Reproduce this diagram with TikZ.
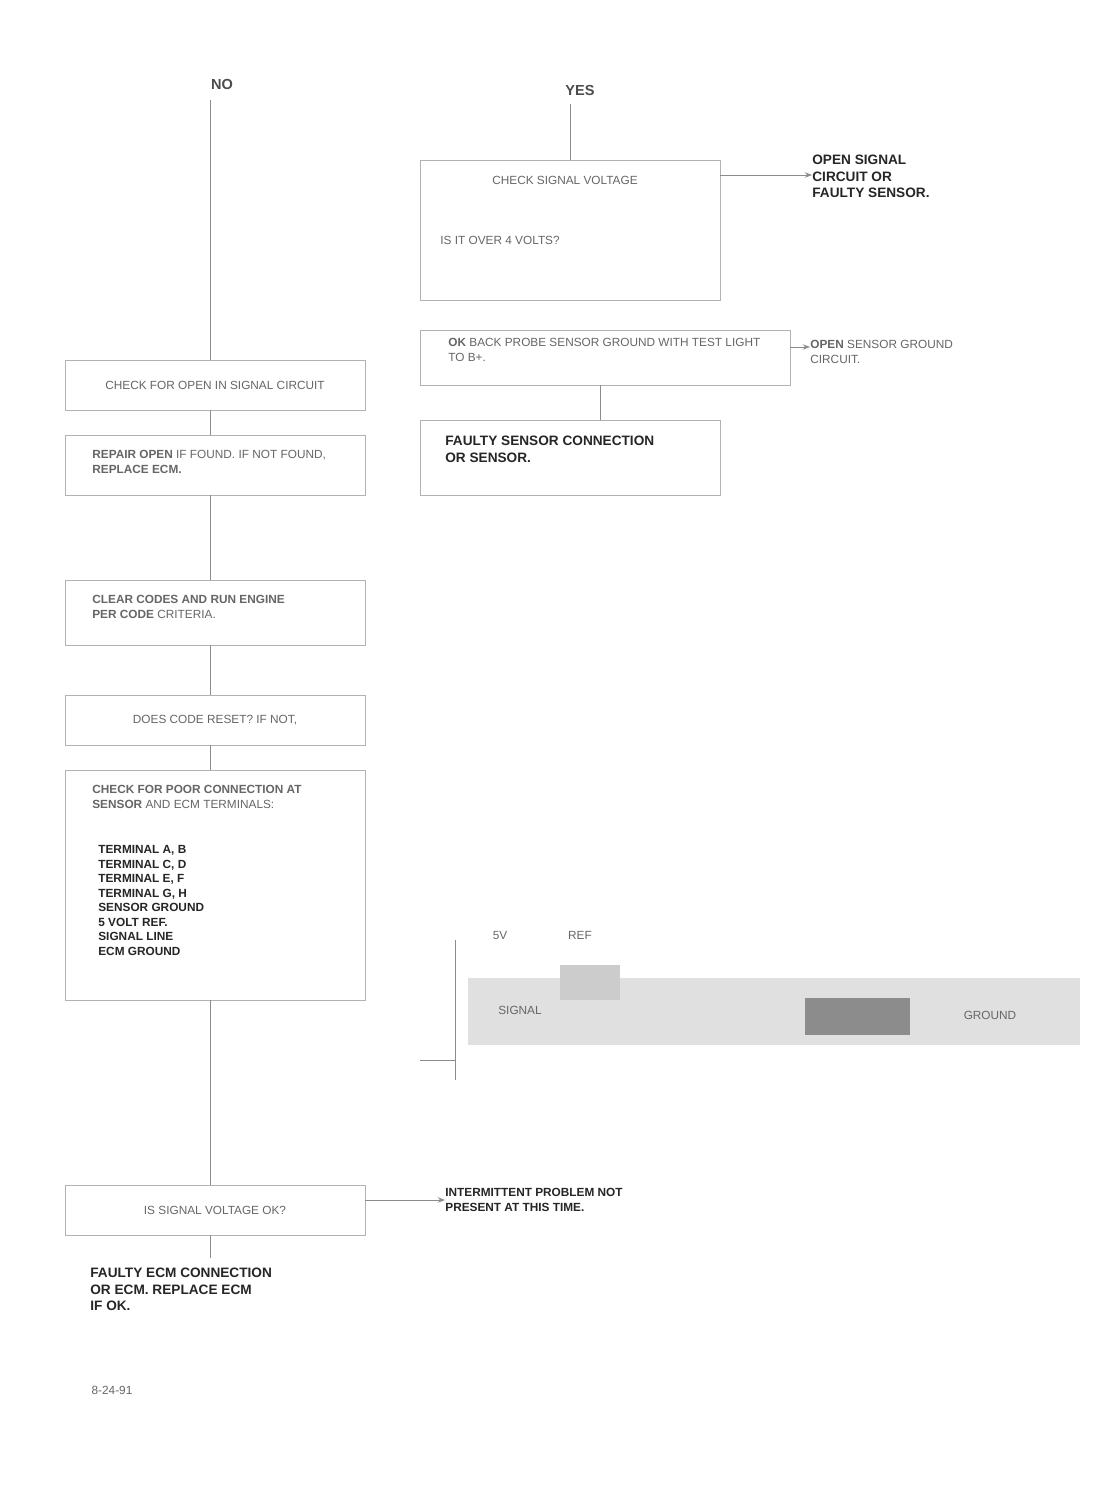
\documentclass[tikz,border=0pt]{standalone}
\usepackage{fontspec}
\setmainfont{Liberation Sans}
\usetikzlibrary{arrows.meta}
\begin{document}
\begin{tikzpicture}[x=0.55pt,y=-0.55pt,
  conn/.style={draw=black!45,line width=0.5pt},
  arr/.style={conn,-{Stealth[length=4pt]}},
  stepbox/.style={draw=black!30,line width=0.4pt},
  txt/.style={font=\fontsize{6.5}{8}\selectfont,text=black!60,inner sep=0pt},
  dtxt/.style={font=\fontsize{6.5}{8}\selectfont\bfseries,text=black!85,inner sep=0pt},
  lbl/.style={font=\fontsize{8}{9}\selectfont\bfseries,text=black!70,inner sep=1pt}]
\useasboundingbox (0,0) rectangle (1117,1490);
\fill[white] (0,0) rectangle (1117,1490);

% ---------- left column ----------
\node[lbl] (noL) at (222,84) {NO};
\draw[stepbox] (65,360) rectangle (365,410);
\node[txt,align=center] (l1) at (215,385) {CHECK FOR OPEN IN SIGNAL CIRCUIT};
\draw[stepbox] (65,435) rectangle (365,495);
\node[txt,align=left,anchor=north west] (l2) at (92,450) {\textbf{REPAIR OPEN} IF FOUND. IF NOT FOUND,\\\textbf{REPLACE ECM.}};
\coordinate (c1) at (210,100);
\draw[conn] (c1) -- (210,360);
\draw[conn] (210,410) -- (210,435);
\draw[conn] (210,495) -- (210,580);

\draw[stepbox] (65,580) rectangle (365,645);
\node[txt,align=left,anchor=north west] (l3) at (92,595) {\textbf{CLEAR CODES AND RUN ENGINE}\\\textbf{PER CODE} CRITERIA.};
\draw[conn] (210,645) -- (210,695);
\draw[stepbox] (65,695) rectangle (365,745);
\node[txt] (l4) at (215,720) {DOES CODE RESET? IF NOT,};
\draw[conn] (210,745) -- (210,770);

\draw[stepbox] (65,770) rectangle (365,1000);
\node[txt,align=left,anchor=north west] (l5) at (92,785) {\textbf{CHECK FOR POOR CONNECTION AT}\\\textbf{SENSOR} AND ECM TERMINALS:};
\node[dtxt,align=left,anchor=north west] (l5b) at (98,845) {TERMINAL A, B\\TERMINAL C, D\\TERMINAL E, F\\TERMINAL G, H\\SENSOR GROUND\\5 VOLT REF.\\SIGNAL LINE\\ECM GROUND};
\draw[conn] (210,1000) -- (210,1185);

\draw[stepbox] (65,1185) rectangle (365,1235);
\node[txt] (l6) at (215,1210) {IS SIGNAL VOLTAGE OK?};
\node[dtxt,align=left,anchor=north west] (r6) at (445,1188) {INTERMITTENT PROBLEM NOT\\PRESENT AT THIS TIME.};
\draw[arr] (365,1200) -- (r6.west|-0,1200);
\draw[conn] (210,1235) -- (210,1258);
\node[dtxt,align=left,anchor=north west,font=\fontsize{7.5}{9}\selectfont\bfseries] (l7) at (90,1268) {FAULTY ECM CONNECTION\\OR ECM. REPLACE ECM\\IF OK.};
\node[txt] (fn) at (112,1390) {8-24-91};

% ---------- right column ----------
\node[lbl] (yesR) at (580,90) {YES};
\draw[conn] (570,104) -- (570,160);
\draw[stepbox] (420,160) rectangle (720,300);
\node[txt] (r1) at (565,180) {CHECK SIGNAL VOLTAGE};
\node[txt,align=left,anchor=north west] (r1b) at (440,236) {IS IT OVER 4 VOLTS?};
\node[dtxt,align=left,anchor=north west,font=\fontsize{7.5}{9}\selectfont\bfseries] (r1c) at (812,155) {OPEN SIGNAL\\CIRCUIT OR\\FAULTY SENSOR.};
\draw[arr] (720,175) -- (r1c.west|-0,175);

\draw[stepbox] (420,330) rectangle (790,385);
\node[txt,align=left,anchor=north west] (r2) at (448,338) {\textbf{OK} BACK PROBE SENSOR GROUND WITH TEST LIGHT\\TO B+.};
\node[txt,align=left,anchor=north west] (r2b) at (810,340) {\textbf{OPEN} SENSOR GROUND\\CIRCUIT.};
\draw[arr] (790,347) -- (r2b.west|-0,347);
\draw[conn] (600,385) -- (600,420);
\draw[stepbox] (420,420) rectangle (720,495);
\node[dtxt,align=left,anchor=north west,font=\fontsize{7.5}{9}\selectfont\bfseries] (r3) at (445,436) {FAULTY SENSOR CONNECTION\\OR SENSOR.};

% ---------- signal illustration ----------
\draw[conn] (455,940) -- (455,1080);
\node[txt] (g1) at (500,935) {5V};
\node[txt] (g2) at (580,935) {REF};
\fill[black!12] (468,978) rectangle (1080,1045);
\fill[black!20] (560,965) rectangle (620,1000);
\fill[black!45] (805,998) rectangle (910,1035);
\node[txt] (g3) at (520,1010) {SIGNAL};
\node[txt] (g4) at (990,1015) {GROUND};
\draw[conn] (420,1060) -- (455,1060);
\end{tikzpicture}
\end{document}
